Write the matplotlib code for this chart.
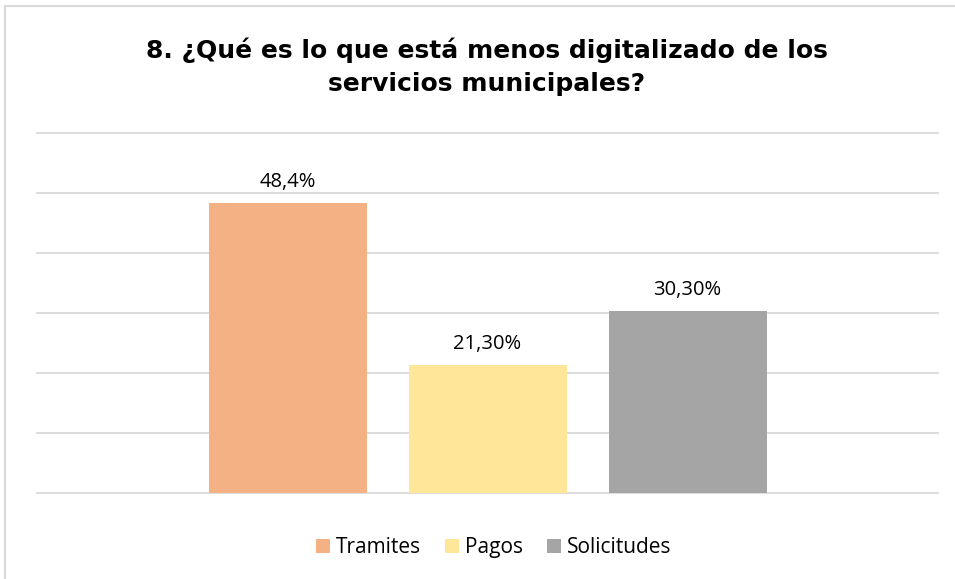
import matplotlib
matplotlib.use("Agg")
import matplotlib.pyplot as plt
from matplotlib.lines import Line2D
from matplotlib.patches import Rectangle

# Datos
series = ["Tramites", "Pagos", "Solicitudes"]
valores = [48.4, 21.3, 30.3]
etiquetas = ["48,4%", "21,30%", "30,30%"]
colores = ["#F4B183", "#FFE699", "#A5A5A5"]

titulo = "8. ¿Qué es lo que está menos digitalizado de los\nservicios municipales?"

W, H = 955, 579
fig = plt.figure(figsize=(W/100, H/100), dpi=100)
ax = fig.add_axes([37/W, 86/H, 901/W, 360/H])

posiciones = list(range(len(series)))
barras = ax.bar(posiciones, valores, width=0.79, color=colores, zorder=3)

for b, txt in zip(barras, etiquetas):
    ax.text(b.get_x() + b.get_width()/2, b.get_height() + 1.8, txt,
            ha="center", va="bottom", fontsize=14.5, family="Open Sans", color="#000000")

ax.set_ylim(0, 60)
ax.set_xlim(-1.2525, 3.2525)
ax.set_yticks(range(0, 61, 10))
ax.yaxis.grid(True, color="#d9d9d9", linewidth=1.3, zorder=0)
for gl in ax.get_ygridlines():
    gl.set_clip_on(False)
ax.tick_params(left=False, bottom=False, labelleft=False, labelbottom=False)
for s in ax.spines.values():
    s.set_visible(False)

# leyenda hecha a mano (para alinear las letras por la linea base)
fig.canvas.draw()
renderer = fig.canvas.get_renderer()
x = 316
lado = 14
for nombre, c in zip(series, colores):
    fig.add_artist(Rectangle((x/W, 1 - 553/H), lado/W, lado/H,
                             transform=fig.transFigure, facecolor=c, edgecolor="none"))
    t = fig.text((x + lado + 6)/W, 1 - 553/H, nombre, ha="left", va="baseline",
                 family="Open Sans", fontsize=15, color="#000000")
    ancho = t.get_window_extent(renderer).width
    x = x + lado + 6 + ancho + 24

fig.text(487/W, 1 - 67/H, titulo, ha="center", va="center",
         fontsize=18, fontweight="bold", linespacing=1.45, family="DejaVu Sans")

# borde del marco
fig.add_artist(Line2D([5/W, 1], [1 - 6/H, 1 - 6/H], color="#d9d9d9", linewidth=1.5))
fig.add_artist(Line2D([5/W, 5/W], [0, 1 - 6/H], color="#d9d9d9", linewidth=1.5))

fig.savefig("out.png", dpi=100)
